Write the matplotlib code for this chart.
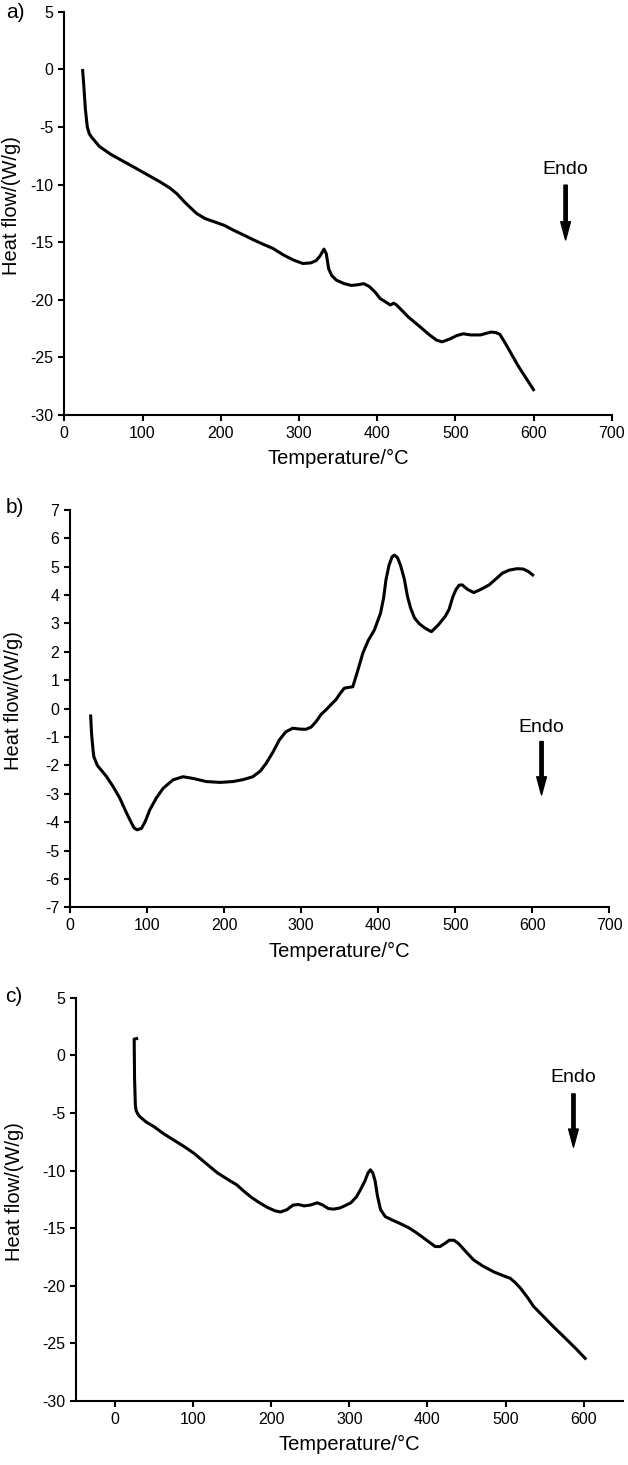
import matplotlib
matplotlib.use("Agg")
import matplotlib.pyplot as plt
from matplotlib import rcParams

rcParams['font.family'] = ['Liberation Sans', 'DejaVu Sans']
rcParams['axes.unicode_minus'] = False

# panel a) heat flow curve
temp_a = [23.5, 25, 27, 29.4, 32, 35, 45, 60, 88, 105, 122, 135, 144, 155, 169, 180,
          190.5, 205, 216, 230, 242, 255, 267, 280, 293, 305, 315, 322, 327, 332, 335,
          338, 342, 348, 358, 367, 375, 383, 390, 397, 404, 410, 417, 421, 424, 430,
          440, 455, 467, 476, 483, 493, 502, 510, 520, 532, 540, 546, 552, 557, 565,
          580, 600]
flow_a = [-0.1, -1.5, -3.5, -5.0, -5.6, -5.9, -6.7, -7.4, -8.45, -9.1, -9.75, -10.3,
          -10.8, -11.6, -12.5, -12.95, -13.2, -13.55, -13.95, -14.4, -14.8, -15.2,
          -15.55, -16.1, -16.55, -16.85, -16.8, -16.6, -16.2, -15.6, -16.0, -17.3,
          -17.9, -18.3, -18.6, -18.75, -18.7, -18.6, -18.85, -19.3, -19.9, -20.15,
          -20.45, -20.3, -20.4, -20.8, -21.5, -22.35, -23.05, -23.5, -23.65, -23.4,
          -23.1, -22.95, -23.05, -23.05, -22.9, -22.8, -22.85, -23.0, -23.9, -25.7,
          -27.8]

# panel b)
temp_b = [26.8, 28, 30, 31, 35.4, 47.5, 56, 64.7, 72, 77.7, 83, 87, 92.8, 98, 103.5,
          112, 120.8, 133.7, 146.6, 159.6, 176.9, 195, 211.4, 225, 237.2, 247, 254.5,
          263, 271.8, 280, 289, 298, 306, 313, 319.3, 326, 332, 339, 345, 351, 356,
          362, 367, 373, 380, 387, 395, 403, 407, 410, 414, 418, 421, 425, 429, 434,
          438, 442, 447, 453, 460, 469, 478, 487, 492, 497, 501, 505, 509, 516, 524,
          533, 544, 552, 561, 570, 580, 588, 595, 600.5]
flow_b = [-0.26, -0.9, -1.5, -1.7, -2.0, -2.4, -2.75, -3.16, -3.6, -3.92, -4.2, -4.27,
          -4.22, -3.95, -3.57, -3.15, -2.81, -2.51, -2.40, -2.46, -2.57, -2.6, -2.57,
          -2.5, -2.40, -2.2, -1.93, -1.55, -1.10, -0.82, -0.69, -0.72, -0.73, -0.65,
          -0.46, -0.2, -0.05, 0.15, 0.31, 0.55, 0.72, 0.75, 0.77, 1.3, 1.95, 2.4, 2.77,
          3.36, 3.9, 4.53, 5.05, 5.35, 5.41, 5.32, 5.05, 4.55, 3.95, 3.55, 3.2, 3.0,
          2.85, 2.71, 2.95, 3.25, 3.5, 3.95, 4.2, 4.35, 4.36, 4.2, 4.09, 4.2, 4.36,
          4.55, 4.77, 4.88, 4.93, 4.92, 4.83, 4.71]

# panel c)
temp_c = [27.7, 24.5, 25, 26, 27, 30, 33, 40, 50, 62, 75, 88, 101, 115, 131, 145, 156,
          165, 175, 185, 195, 205, 212, 220, 228, 235, 242, 250, 259, 266, 273, 280,
          288, 296, 302, 309, 314, 320, 324, 327, 330, 333, 336, 340, 346, 355, 365,
          377, 387, 398, 410, 416, 423, 428, 434, 440, 450, 459, 470, 485, 498, 506,
          512, 519, 528, 536, 549, 562, 575, 590, 602]
flow_c = [1.45, 1.4, -2.0, -4.3, -4.8, -5.2, -5.4, -5.8, -6.2, -6.8, -7.35, -7.9, -8.5,
          -9.3, -10.2, -10.8, -11.25, -11.8, -12.35, -12.8, -13.2, -13.5, -13.6, -13.4,
          -13.0, -12.95, -13.07, -13.0, -12.8, -13.0, -13.3, -13.35, -13.25, -13.0,
          -12.8, -12.3, -11.7, -10.9, -10.2, -9.94, -10.2, -10.9, -12.2, -13.4, -14.0,
          -14.3, -14.6, -15.0, -15.45, -16.0, -16.6, -16.6, -16.3, -16.05, -16.05,
          -16.35, -17.1, -17.75, -18.25, -18.8, -19.15, -19.35, -19.7, -20.2, -21.0,
          -21.8, -22.7, -23.6, -24.45, -25.45, -26.3]

panels = [
    # label, x, y, rect, xlim, ylim, yticks, endo (x, text y, arrow top, arrow tip), ylabel x
    ("a)", temp_a, flow_a, [0.1024, 0.7167, 0.8717, 0.2753], (0, 700), (-30, 5),
     range(-30, 6, 5), (641, -8.7, -10.05, -14.8), -0.079, (15 / 628, 1 - 12 / 1465)),
    ("b)", temp_b, flow_b, [0.1115, 0.3807, 0.8588, 0.2712], (0, 700), (-7, 7),
     range(-7, 8, 1), (612, -0.66, -1.16, -3.04), -0.087, (15 / 628, 1 - 508 / 1465)),
    ("c)", temp_c, flow_c, [0.1210, 0.0437, 0.8705, 0.2753], (-50, 650), (-30, 5),
     range(-30, 6, 5), (587, -1.9, -3.35, -7.97), -0.095, (14 / 628, 1 - 997 / 1465)),
]

fig = plt.figure(figsize=(6.28, 14.65), dpi=100)

for lab, xs, ys, rect, xlim, ylim, yt, endo, ylx, labpos in panels:
    ax = fig.add_axes(rect)
    ax.plot(xs, ys, color='black', lw=2.2, solid_joinstyle='round')
    ax.set_xlim(*xlim)
    ax.set_ylim(*ylim)
    ax.set_xticks(range(0, 701, 100) if xlim[1] == 700 else range(0, 601, 100))
    ax.set_yticks(list(yt))
    for s in ['top', 'right']:
        ax.spines[s].set_visible(False)
    for s in ['left', 'bottom']:
        ax.spines[s].set_linewidth(1.5)
    ax.tick_params(direction='out', length=4.3, width=1.5, labelsize=11.5, pad=3.5)
    ax.set_xlabel('Temperature/°C', fontsize=14.5, labelpad=6)
    ax.set_ylabel('Heat flow/(W/g)', fontsize=14.5)
    ax.yaxis.set_label_coords(ylx, 0.52)
    ex, ty, a0, a1 = endo
    ax.text(ex, ty, 'Endo', fontsize=14, ha='center', va='center')
    ax.annotate('', xy=(ex, a1), xytext=(ex, a0),
                arrowprops=dict(facecolor='black', edgecolor='black', width=2.4,
                                headwidth=7, headlength=13, shrink=0))
    fig.text(labpos[0], labpos[1], lab, fontsize=15, ha='center', va='center')

fig.savefig('out.png', dpi=100)
